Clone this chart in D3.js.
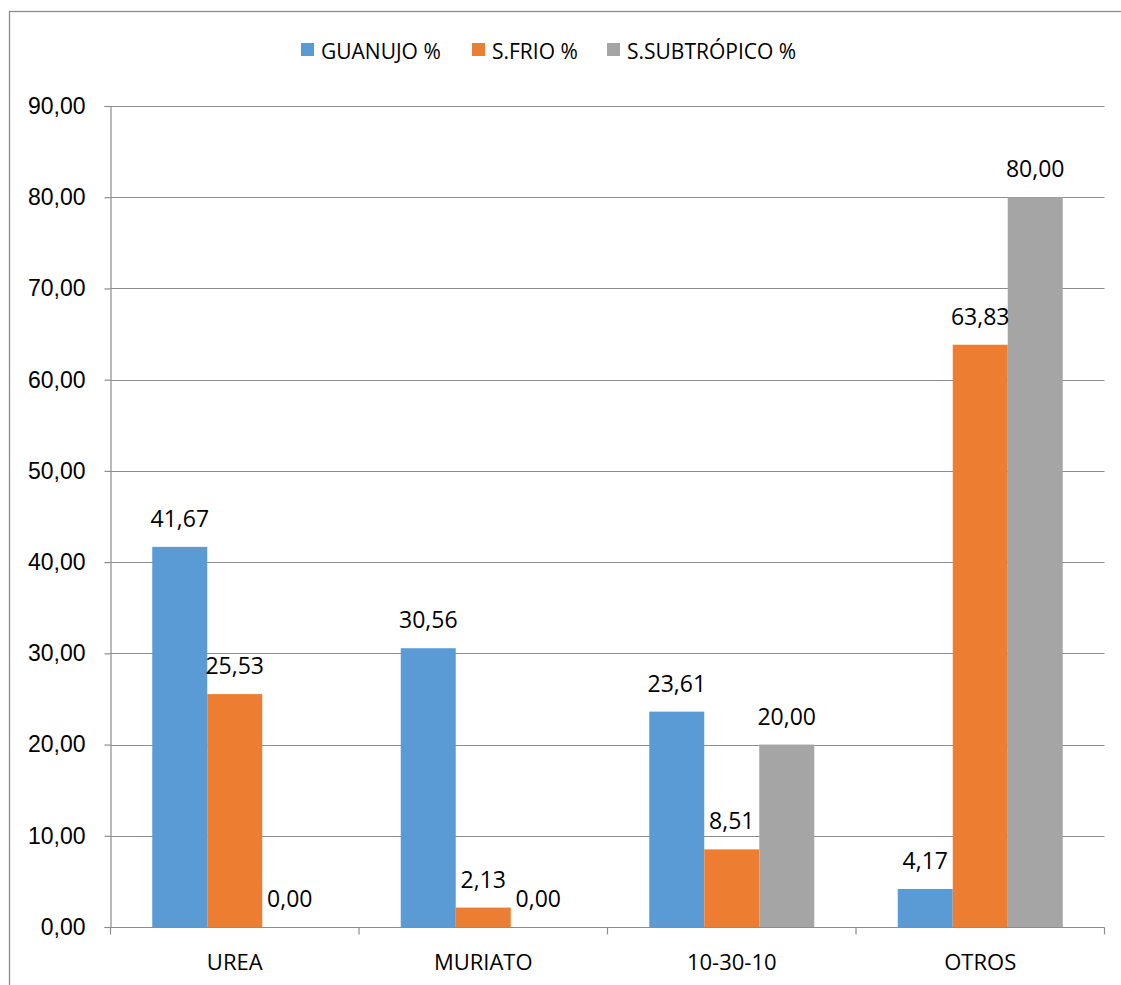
<!DOCTYPE html>
<html lang="es">
<head>
  <meta charset="UTF-8"/>
  <title>Fertilizantes</title>
  <script src="https://d3js.org/d3.v7.min.js"></script>
  <style>
    body { margin: 0; background: #fff; }
    svg { display: block; font-family: "Open Sans", sans-serif; }
    .tick text { font-size: 23px; fill: #000; }
  </style>
</head>
<body>
<svg id="chart" width="1121" height="985"></svg>
<script>
// data
const categories = ['UREA', 'MURIATO', '10-30-10', 'OTROS'];
const seriesNames = ['GUANUJO %', 'S.FRIO %', 'S.SUBTRÓPICO %'];
const guanujo = [41.67, 30.56, 23.61, 4.17];
const sFrio = [25.53, 2.13, 8.51, 63.83];
const sSubtropico = [0.00, 0.00, 20.00, 80.00];
const yTicks = [0, 10, 20, 30, 40, 50, 60, 70, 80, 90];
const colors = ['#5B9BD5', '#ED7D31', '#A5A5A5'];

const seriesValues = [guanujo, sFrio, sSubtropico];
const fmt = v => v.toFixed(2).replace('.', ',');

const svg = d3.select('#chart');
const plotL = 110.5, plotR = 1104.5, plotT = 106, plotB = 927;

// outer frame
svg.append('rect').attr('x', 9.5).attr('y', 11.5).attr('width', 1130).attr('height', 1000)
  .attr('fill', 'none').attr('stroke', '#8c8c8c').attr('stroke-width', 1.3);

const y = d3.scaleLinear().domain([0, 90]).range([plotB, plotT]);
const x0 = d3.scaleBand().domain(categories).range([plotL, plotR])
  .paddingInner(0.336).paddingOuter(0.168);
const x1 = d3.scaleBand().domain(seriesNames).range([0, x0.bandwidth()]);

// gridlines
svg.append('g').selectAll('line').data(yTicks.filter(d => d > 0)).join('line')
  .attr('x1', plotL).attr('x2', plotR)
  .attr('y1', d => Math.round(y(d)) + 0.5).attr('y2', d => Math.round(y(d)) + 0.5)
  .attr('stroke', '#8c8c8c').attr('stroke-width', 1.2);

// y axis
const yAxis = svg.append('g').attr('transform', `translate(${plotL},0)`)
  .call(d3.axisLeft(y).tickValues(yTicks).tickFormat(fmt).tickSizeOuter(0).tickSize(6).tickPadding(19));
yAxis.select('.domain').attr('stroke', '#8c8c8c').attr('stroke-width', 1.2);
yAxis.selectAll('.tick line').attr('stroke', '#8c8c8c').attr('stroke-width', 1.2);

// bars
const groups = svg.append('g').selectAll('g').data(categories).join('g')
  .attr('transform', d => `translate(${x0(d)},0)`);

groups.selectAll('rect')
  .data((c, i) => seriesNames.map((s, j) => ({ s, j, v: seriesValues[j][i] })))
  .join('rect')
  .attr('x', d => x1(d.s)).attr('width', x1.bandwidth())
  .attr('y', d => y(d.v)).attr('height', d => plotB - y(d.v))
  .attr('fill', d => colors[d.j]);

groups.selectAll('text')
  .data((c, i) => seriesNames.map((s, j) => ({ s, j, v: seriesValues[j][i] })))
  .join('text')
  .attr('x', d => x1(d.s) + x1.bandwidth() / 2)
  .attr('y', d => y(d.v) - 20)
  .attr('text-anchor', 'middle').attr('font-size', 23).attr('fill', '#000')
  .text(d => fmt(d.v));

// x axis
const xBounds = d3.scaleLinear().domain([0, categories.length]).range([plotL, plotR]);
const xAxis = svg.append('g').attr('transform', `translate(0,${plotB + 0.5})`);
xAxis.append('line').attr('x1', plotL).attr('x2', plotR).attr('stroke', '#8c8c8c').attr('stroke-width', 1.2);
xAxis.selectAll('line.tk').data(d3.range(categories.length + 1)).join('line').attr('class', 'tk')
  .attr('x1', d => xBounds(d)).attr('x2', d => xBounds(d)).attr('y1', 0).attr('y2', 7)
  .attr('stroke', '#8c8c8c').attr('stroke-width', 1.2);
xAxis.selectAll('text').data(categories).join('text')
  .attr('x', d => x0(d) + x0.bandwidth() / 2).attr('y', 42)
  .attr('text-anchor', 'middle').attr('font-size', 22).attr('fill', '#000')
  .text(d => d);

// legend
const legendX = [301, 472, 607];
const legend = svg.append('g').selectAll('g').data(seriesNames).join('g')
  .attr('transform', (d, i) => `translate(${legendX[i]},43)`);
legend.append('rect').attr('width', 13).attr('height', 13).attr('fill', (d, i) => colors[i]);
legend.append('text').attr('x', 20).attr('y', 16).attr('font-size', 21).attr('fill', '#000')
  .text(d => d);
</script>
</body>
</html>
